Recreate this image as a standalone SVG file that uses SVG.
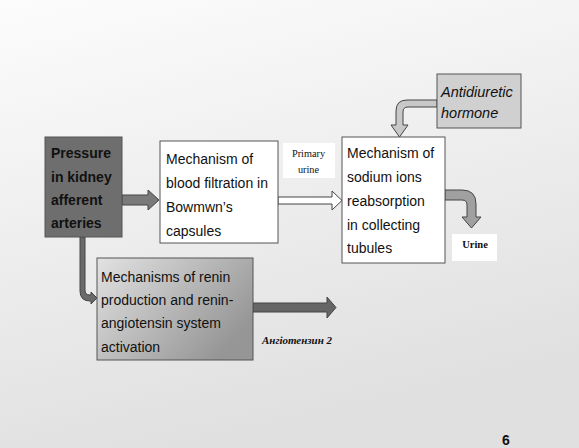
<svg xmlns="http://www.w3.org/2000/svg" width="579" height="448" viewBox="0 0 579 448">
<defs>
<linearGradient id="bg" x1="0" y1="0" x2="0.3" y2="1">
<stop offset="0" stop-color="#fcfcfc"/>
<stop offset="1" stop-color="#e0e0e0"/>
</linearGradient>
<linearGradient id="renin" x1="0" y1="0" x2="1" y2="0.6">
<stop offset="0" stop-color="#e2e2e2"/>
<stop offset="1" stop-color="#969696"/>
</linearGradient>
<style>
.t{font-family:"Liberation Sans",Arial,sans-serif;font-size:14px;fill:#111}
.b{font-weight:bold}
.i{font-style:italic;font-size:14.5px}
.s{font-family:"Liberation Serif","Times New Roman",serif;fill:#111}
.box{stroke:#555;stroke-width:1}
.arr{stroke:#444;stroke-width:1;stroke-linejoin:miter}
</style>
</defs>
<rect width="579" height="448" fill="url(#bg)"/>

<g id="connectors">
<polygon class="arr" fill="#7a7a7a" points="122,195 148,195 148,190 159,200 148,210 148,205 122,205"/>
<polygon class="arr" fill="#ffffff" points="278,197 332,197 332,191 342,200.5 332,210 332,204 278,204"/>
<path class="arr" fill="#a0a0a0" d="M445,190 L462,190 Q476,190 476,204 L476,217 L481,217 L471.5,228 L462,217 L467,217 L467,205 Q467,200 462,200 L445,200 Z"/>
<path class="arr" fill="#c8c8c8" stroke="#555" d="M437,100 L407,100 Q396,100 396,111 L396,125 L391,125 L399.5,137 L408,125 L403,125 L403,112 Q403,107 408,107 L437,107 Z"/>
<path class="arr" fill="#6a6a6a" stroke="#555" d="M80,237 L80,291 Q80,301 90,301 L91,301 L91,304 L97,298 L91,292 L91,295 L90,295 Q85,295 85,290 L85,237 Z"/>
<polygon class="arr" fill="#666" stroke="#555" points="253,303 327,303 327,297 336,307.5 327,318 327,312 253,312"/>
<rect x="283" y="143" width="52" height="35" fill="#ffffff"/>
<text class="s" font-size="10.3" text-anchor="middle" x="308.5" y="157">Primary</text>
<text class="s" font-size="10.3" text-anchor="middle" x="308.5" y="173">urine</text>
<rect x="452" y="234" width="45" height="27" fill="#ffffff"/>
<text class="s" font-size="10.5" font-weight="bold" text-anchor="middle" x="475" y="248">Urine</text>
<text class="s" font-size="11" font-weight="bold" font-style="italic" x="262" y="344" textLength="70">Ангіотензин 2</text>
</g>

<g id="pressure">
<rect class="box" x="45" y="137" width="77" height="100" fill="#6e6e6e" stroke="#4a4a4a"/>
<text class="t b" x="51" y="158">Pressure</text>
<text class="t b" x="51" y="182">in kidney</text>
<text class="t b" x="51" y="205">afferent</text>
<text class="t b" x="51" y="228">arteries</text>
</g>

<g id="filtration">
<rect class="box" x="160" y="141" width="118" height="102" fill="#ffffff"/>
<text class="t" x="166" y="164">Mechanism of</text>
<text class="t" x="166" y="188">blood filtration in</text>
<text class="t" x="166" y="212">Bowmwn’s</text>
<text class="t" x="166" y="236">capsules</text>
</g>

<g id="sodium">
<rect class="box" x="342" y="137" width="103" height="126" fill="#ffffff"/>
<text class="t" x="347" y="158">Mechanism of</text>
<text class="t" x="347" y="182">sodium ions</text>
<text class="t" x="347" y="206">reabsorption</text>
<text class="t" x="347" y="230">in collecting</text>
<text class="t" x="347" y="253">tubules</text>
</g>

<g id="adh">
<rect class="box" x="437" y="74" width="84" height="54" fill="#d0d0d0" stroke="#666"/>
<text class="t i" x="441" y="97">Antidiuretic</text>
<text class="t i" x="441" y="118">hormone</text>
</g>

<g id="renin-node">
<rect class="box" x="97" y="258" width="156" height="102" fill="url(#renin)"/>
<text class="t" x="101" y="282">Mechanisms of renin</text>
<text class="t" x="101" y="305">production and renin-</text>
<text class="t" x="101" y="328">angiotensin system</text>
<text class="t" x="101" y="352">activation</text>
</g>

<text class="t b" font-size="10" x="502" y="445">6</text>
</svg>
